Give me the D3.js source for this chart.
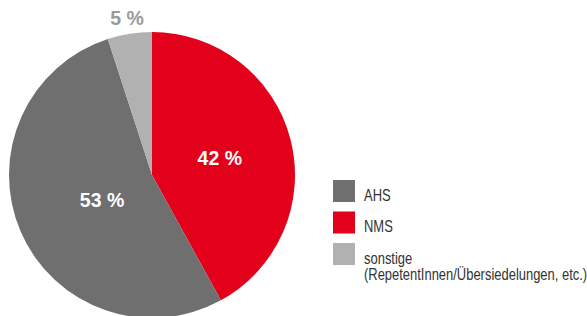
<!DOCTYPE html>
<html><head><meta charset="utf-8">
<script src="https://cdn.jsdelivr.net/npm/d3@7"></script>
<style>html,body{margin:0;padding:0;background:#fff;}svg{display:block;}</style>
</head><body><svg id="c" width="587" height="316"></svg>
<script>
const categories = ["NMS", "AHS", "sonstige"];
const values = [42, 53, 5];
const valueLabels = ["42 %", "53 %", "5 %"];
const legendOrder = ["AHS", "NMS", "sonstige"];
const legendLabels = [["AHS"], ["NMS"], ["sonstige", "(RepetentInnen/Übersiedelungen, etc.)"]];

const colors = {NMS: "#e2001a", AHS: "#6f6f6f", sonstige: "#b1b1b1"};
const svg = d3.select("#c");
const cx = 152, cy = 175, R = 143;
const g = svg.append("g").attr("transform", `translate(${cx},${cy})`);
const pie = d3.pie().sort(null).value(d => d.v);
const data = categories.map((c, i) => ({c, v: values[i], l: valueLabels[i]}));
const arcs = pie(data);
const arc = d3.arc().innerRadius(0).outerRadius(R);
g.selectAll("path").data(arcs).join("path")
  .attr("d", arc).attr("fill", d => colors[d.data.c]);

const labelR = {NMS: 70, AHS: 56, sonstige: 159};
const labelColor = {NMS: "#fff", AHS: "#fff", sonstige: "#9a9a9a"};
g.selectAll("text").data(arcs).join("text")
  .attr("transform", d => {
    const a = (d.startAngle + d.endAngle) / 2 + (d.data.c === "AHS" ? -0.06 : 0);
    const r = labelR[d.data.c];
    return `translate(${r * Math.sin(a)},${-r * Math.cos(a)})`;
  })
  .attr("text-anchor", "middle").attr("dy", "0.36em")
  .attr("font-family", "Liberation Sans, Arial, sans-serif")
  .attr("font-weight", "bold").attr("font-size", 19.5)
  .attr("fill", d => labelColor[d.data.c])
  .text(d => d.data.l);

const leg = svg.append("g").attr("transform", "translate(333,180)");
const ly = d3.scaleBand().domain(legendOrder).range([0, 94.5]);
legendOrder.forEach((c, i) => {
  const gg = leg.append("g").attr("transform", `translate(0,${ly(c)})`);
  gg.append("rect").attr("width", 22).attr("height", 22).attr("fill", colors[c]);
  const t = gg.append("text").attr("transform", "translate(31,20.5) scale(0.81,1)")
    .attr("font-family", "Liberation Sans, Arial, sans-serif")
    .attr("font-size", 16).attr("fill", "#333");
  legendLabels[i].forEach((s, j) => t.append("tspan").attr("x", 0).attr("dy", j === 0 ? 0 : 17).text(s));
});
</script></body></html>
